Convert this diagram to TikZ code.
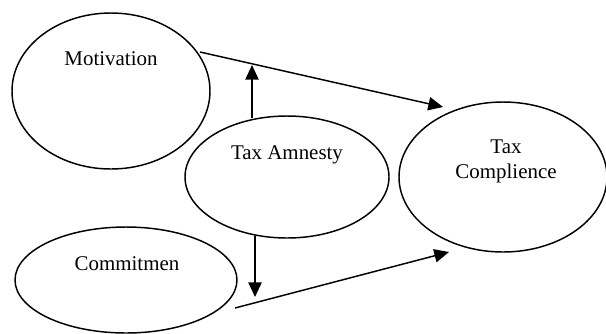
\documentclass[tikz,border=0pt]{standalone}
\usepackage{fontspec}
\setmainfont{Liberation Serif}
\usetikzlibrary{shapes.geometric,arrows.meta}
\begin{document}
\begin{tikzpicture}[x=0.75pt,y=-0.75pt,
  oval/.style={draw,ellipse,line width=1.1pt,inner sep=0pt},
  lbl/.style={font=\fontsize{15.7}{18.8}\selectfont,inner sep=0pt,align=center},
  conn/.style={line width=1.1pt,-{Triangle[length=11pt,width=10pt]}}]
\useasboundingbox (0,0) rectangle (606,333);
% ellipses
\node[oval,minimum width=148.5pt,minimum height=117pt] (mot) at (111,91) {};
\node[oval,minimum width=153pt,minimum height=91.5pt] (ta) at (287,177) {};
\node[oval,minimum width=156pt,minimum height=112.5pt] (tc) at (503,177) {};
\node[oval,minimum width=166.5pt,minimum height=79.5pt] (com) at (126,280) {};
% labels
\node[lbl] (motl) at (111,59) {Motivation};
\node[lbl] (tal) at (287,155) {Tax Amnesty};
\node[lbl] (tcl) at (506,161) {Tax\\Complience};
\node[lbl] (coml) at (127,264) {Commitmen};
% connector end points
\coordinate (m1) at (200,52);
\coordinate (m2) at (443,107);
\coordinate (u1) at (252,118);
\coordinate (u2) at (252,65);
\coordinate (d1) at (255,236);
\coordinate (d2) at (255,297);
\coordinate (c1) at (235,308);
\coordinate (c2) at (449,252);
% connectors
\draw[conn] (m1) -- (m2);
\draw[conn] (u1) -- (u2);
\draw[conn] (d1) -- (d2);
\draw[conn] (c1) -- (c2);
\end{tikzpicture}
\end{document}
